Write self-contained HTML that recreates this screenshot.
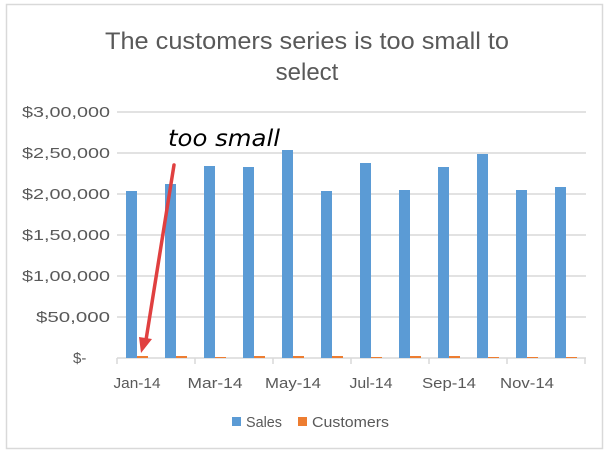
<!DOCTYPE html>
<html><head><style>body{margin:0;background:#fff}</style></head><body>
<svg width="610" height="455" xmlns="http://www.w3.org/2000/svg" font-family="Liberation Sans, sans-serif">
<rect x="0" y="0" width="610" height="455" fill="#fff"/>
<rect x="6.5" y="4.5" width="596" height="444" fill="#fff" stroke="#d9d9d9" stroke-width="1.5"/>
<text x="307" y="49" text-anchor="middle" font-size="24" fill="#595959" textLength="404" lengthAdjust="spacingAndGlyphs">The customers series is too small to</text>
<text x="307" y="80" text-anchor="middle" font-size="24" fill="#595959">select</text>
<g stroke="#d9d9d9" stroke-width="1.5">
<line x1="117" y1="112" x2="586" y2="112"/><line x1="117" y1="153" x2="586" y2="153"/>
<line x1="117" y1="194" x2="586" y2="194"/><line x1="117" y1="235" x2="586" y2="235"/>
<line x1="117" y1="276" x2="586" y2="276"/><line x1="117" y1="317" x2="586" y2="317"/>
<line x1="117" y1="358" x2="586" y2="358"/>
<line x1="117" y1="358" x2="117" y2="364"/><line x1="195" y1="358" x2="195" y2="364"/><line x1="273" y1="358" x2="273" y2="364"/><line x1="351" y1="358" x2="351" y2="364"/><line x1="429" y1="358" x2="429" y2="364"/><line x1="507" y1="358" x2="507" y2="364"/><line x1="585" y1="358" x2="585" y2="364"/>
</g>
<g font-size="15" fill="#595959">
<text x="22" y="117" textLength="88" lengthAdjust="spacingAndGlyphs">$3,00,000</text>
<text x="22" y="158" textLength="88" lengthAdjust="spacingAndGlyphs">$2,50,000</text>
<text x="22" y="199" textLength="88" lengthAdjust="spacingAndGlyphs">$2,00,000</text>
<text x="22" y="240" textLength="88" lengthAdjust="spacingAndGlyphs">$1,50,000</text>
<text x="22" y="281" textLength="88" lengthAdjust="spacingAndGlyphs">$1,00,000</text>
<text x="36" y="322" textLength="74" lengthAdjust="spacingAndGlyphs">$50,000</text>
<text x="73" y="363">$-</text>
</g>
<g fill="#5b9bd5">
<rect x="126" y="191" width="11" height="167"/>
<rect x="165" y="184" width="11" height="174"/>
<rect x="204" y="166" width="11" height="192"/>
<rect x="243" y="167" width="11" height="191"/>
<rect x="282" y="150" width="11" height="208"/>
<rect x="321" y="191" width="11" height="167"/>
<rect x="360" y="163" width="11" height="195"/>
<rect x="399" y="190" width="11" height="168"/>
<rect x="438" y="167" width="11" height="191"/>
<rect x="477" y="154" width="11" height="204"/>
<rect x="516" y="190" width="11" height="168"/>
<rect x="555" y="187" width="11" height="171"/>
</g>
<g fill="#ed7d31">
<rect x="137" y="356" width="11" height="2"/><rect x="176" y="356" width="11" height="2"/>
<rect x="215" y="357" width="11" height="1"/><rect x="254" y="356" width="11" height="2"/>
<rect x="293" y="356" width="11" height="2"/><rect x="332" y="356" width="11" height="2"/>
<rect x="371" y="357" width="11" height="1"/><rect x="410" y="356" width="11" height="2"/>
<rect x="449" y="356" width="11" height="2"/><rect x="488" y="357" width="11" height="1"/>
<rect x="527" y="357" width="11" height="1"/><rect x="566" y="357" width="11" height="1"/>
</g>
<g font-size="15" fill="#595959" text-anchor="middle">
<text x="137" y="388" textLength="47" lengthAdjust="spacingAndGlyphs">Jan-14</text>
<text x="215" y="388" textLength="55" lengthAdjust="spacingAndGlyphs">Mar-14</text>
<text x="293" y="388" textLength="56" lengthAdjust="spacingAndGlyphs">May-14</text>
<text x="371" y="388" textLength="43" lengthAdjust="spacingAndGlyphs">Jul-14</text>
<text x="449" y="388" textLength="54" lengthAdjust="spacingAndGlyphs">Sep-14</text>
<text x="527" y="388" textLength="54" lengthAdjust="spacingAndGlyphs">Nov-14</text>
</g>
<rect x="232" y="417" width="9" height="9" fill="#5b9bd5"/>
<text x="246" y="427" font-size="15" fill="#595959" textLength="36" lengthAdjust="spacingAndGlyphs">Sales</text>
<rect x="298" y="417" width="9" height="9" fill="#ed7d31"/>
<text x="312" y="427" font-size="15" fill="#595959" textLength="77" lengthAdjust="spacingAndGlyphs">Customers</text>
<text x="168" y="146" font-size="23" font-style="italic" fill="#000" font-family="DejaVu Sans, sans-serif" textLength="112" lengthAdjust="spacingAndGlyphs">too small</text>
<line x1="174" y1="165" x2="146" y2="340" stroke="#e04040" stroke-width="3.5" stroke-linecap="round"/>
<polygon points="141,353 139,337 152,339" fill="#e04040"/>
</svg>
</body></html>
